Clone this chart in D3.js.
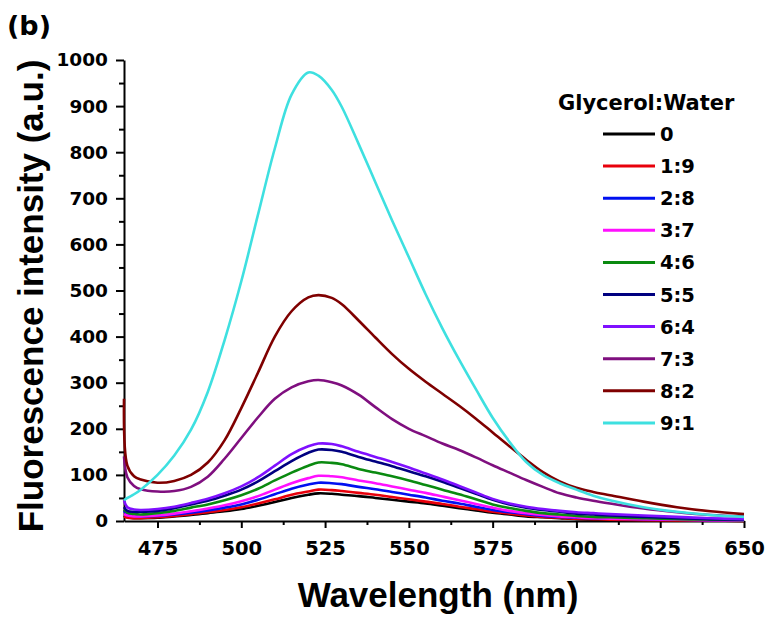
<!DOCTYPE html>
<html>
<head>
<meta charset="utf-8">
<script src="https://cdn.jsdelivr.net/npm/d3@7/dist/d3.min.js"></script>
<style>
  body { margin: 0; background: #fff; }
</style>
</head>
<body>
<div id="chart"></div>
<script>
// emission spectra (nm -> a.u.)
const wavelengths = [465, 466, 468, 470, 475, 480, 485, 490, 495, 500, 505, 510, 515, 520, 523, 527, 530,
  535, 540, 545, 550, 555, 560, 565, 570, 575, 580, 585, 590, 595, 600, 605, 610, 620, 630, 640, 650];

const ratio0  = [12, 8, 6, 6, 7, 10, 13, 17, 21, 26, 33, 41, 50, 57, 60, 59, 57,
  54, 50, 46, 42, 38, 33, 28, 23, 18, 14, 10, 8, 6, 4, 3, 3, 2, 1, 1, 0];
const ratio19 = [10, 7, 6, 6, 8, 11, 15, 19, 24, 30, 38, 47, 57, 64, 68, 67, 65,
  61, 57, 52, 47, 42, 37, 31, 26, 20, 16, 12, 9, 7, 5, 4, 3, 2, 1, 1, 0];
const ratio28 = [22, 14, 11, 10, 11, 14, 18, 23, 29, 36, 46, 58, 70, 79, 83, 82, 80,
  74, 69, 63, 57, 51, 44, 38, 31, 24, 19, 15, 11, 9, 7, 6, 5, 4, 3, 2, 1];
const ratio37 = [15, 12, 10, 10, 12, 16, 21, 27, 34, 43, 54, 68, 82, 93, 98, 97, 95,
  88, 82, 75, 68, 61, 53, 45, 37, 29, 22, 17, 13, 10, 8, 6, 5, 4, 3, 2, 1];
const ratio46 = [25, 18, 15, 14, 17, 22, 29, 36, 45, 56, 70, 88, 105, 120, 127, 126, 123,
  113, 105, 97, 88, 78, 68, 58, 47, 36, 28, 22, 17, 14, 11, 9, 8, 6, 4, 3, 2];
const ratio55 = [30, 22, 20, 20, 22, 28, 36, 44, 55, 68, 86, 108, 130, 148, 155, 154, 150,
  139, 129, 119, 108, 97, 85, 72, 59, 46, 36, 29, 24, 20, 16, 14, 12, 9, 6, 4, 3];
const ratio64 = [45, 30, 25, 24, 26, 31, 39, 48, 60, 75, 95, 120, 145, 162, 168, 167, 162,
  150, 139, 128, 116, 103, 90, 76, 62, 48, 38, 31, 26, 22, 19, 17, 15, 12, 9, 6, 4];
const ratio73 = [140, 95, 76, 69, 64, 65, 74, 96, 135, 180, 225, 265, 290, 303, 306, 301, 294,
  274, 247, 221, 200, 184, 168, 154, 138, 121, 105, 89, 74, 60, 51, 44, 38, 27, 19, 13, 10];
const ratio82 = [265, 120, 97, 90, 83, 87, 100, 127, 175, 245, 322, 400, 455, 485, 490, 484, 470,
  435, 398, 362, 330, 302, 276, 250, 222, 192, 162, 133, 106, 86, 72, 63, 56, 42, 30, 21, 15];
const ratio91 = [45, 50, 58, 68, 100, 142, 198, 280, 392, 520, 665, 808, 925, 973, 966, 935, 898,
  818, 735, 652, 572, 492, 418, 350, 286, 224, 172, 128, 100, 82, 68, 55, 45, 30, 20, 13, 9];

const seriesNames = ["0", "1:9", "2:8", "3:7", "4:6", "5:5", "6:4", "7:3", "8:2", "9:1"];
const seriesValues = [ratio0, ratio19, ratio28, ratio37, ratio46, ratio55, ratio64, ratio73, ratio82, ratio91];
const seriesColors = ["#000000", "#e8000b", "#0010f0", "#ff10ff", "#0a8a10", "#000080",
  "#7f10ff", "#7f0f7f", "#7f0000", "#3ee0e0"];

const xTicks = [475, 500, 525, 550, 575, 600, 625, 650];
const yTicks = [0, 100, 200, 300, 400, 500, 600, 700, 800, 900, 1000];

const width = 770, height = 621;
const numFont = "'DejaVu Sans', sans-serif";
const titleFont = "'Liberation Sans', Arial, sans-serif";

const svg = d3.select("#chart").append("svg")
  .attr("width", width)
  .attr("height", height);

const x = d3.scaleLinear().domain([465, 650]).range([124, 744]);
const y = d3.scaleLinear().domain([0, 1000]).range([521, 60]);

// minor ticks first so the major axis sits on top
svg.append("g")
  .attr("transform", "translate(0,521)")
  .call(d3.axisBottom(x).tickValues(d3.range(487.5, 650, 25)).tickSize(4).tickFormat(""))
  .call(g => g.select(".domain").remove());
svg.append("g")
  .attr("transform", "translate(124,0)")
  .call(d3.axisLeft(y).tickValues(d3.range(50, 1000, 100)).tickSize(5).tickFormat(""))
  .call(g => g.select(".domain").remove());

const xAxis = svg.append("g")
  .attr("transform", "translate(0,521)")
  .call(d3.axisBottom(x).tickValues(xTicks).tickSize(7).tickSizeOuter(0).tickPadding(13)
    .tickFormat(d3.format("d")));
const yAxis = svg.append("g")
  .attr("transform", "translate(124,0)")
  .call(d3.axisLeft(y).tickValues(yTicks).tickSize(8).tickSizeOuter(0).tickPadding(8)
    .tickFormat(d3.format("d")));

xAxis.attr("font-family", numFont).attr("font-size", 19.5).attr("font-weight", "bold");
yAxis.attr("font-family", numFont).attr("font-size", 18.5).attr("font-weight", "bold");
svg.selectAll(".domain, .tick line").attr("stroke", "#000").attr("stroke-width", 2);
svg.selectAll(".tick text").attr("fill", "#000");

// spectra
const line = d3.line()
  .x((d, i) => x(wavelengths[i]))
  .y(d => y(d))
  .curve(d3.curveCatmullRom.alpha(0.5));

svg.append("g").selectAll("path")
  .data(seriesValues)
  .enter().append("path")
    .attr("d", line)
    .attr("fill", "none")
    .attr("stroke", (d, i) => seriesColors[i])
    .attr("stroke-width", 2.6)
    .attr("stroke-linejoin", "round");

// legend
svg.append("text")
  .attr("x", 558)
  .attr("y", 110)
  .attr("font-family", numFont)
  .attr("font-size", 21)
  .attr("font-weight", "bold")
  .text("Glycerol:Water");

const legend = svg.append("g").selectAll("g")
  .data(seriesNames)
  .enter().append("g")
    .attr("transform", (d, i) => `translate(0,${134 + i * 32.1})`);
legend.append("line")
  .attr("x1", 603).attr("x2", 655)
  .attr("stroke", (d, i) => seriesColors[i])
  .attr("stroke-width", 3);
legend.append("text")
  .attr("x", 660)
  .attr("y", 7)
  .attr("font-family", numFont)
  .attr("font-size", 19.5)
  .attr("font-weight", "bold")
  .text(d => d);

// titles
svg.append("text")
  .attr("x", 438)
  .attr("y", 607)
  .attr("text-anchor", "middle")
  .attr("font-family", titleFont)
  .attr("font-size", 35)
  .attr("font-weight", "bold")
  .text("Wavelength (nm)");

svg.append("text")
  .attr("transform", "translate(43,296) rotate(-90)")
  .attr("text-anchor", "middle")
  .attr("font-family", titleFont)
  .attr("font-size", 35)
  .attr("font-weight", "bold")
  .text("Fluorescence intensity (a.u.)");

svg.append("text")
  .attr("x", 7)
  .attr("y", 35)
  .attr("font-family", numFont)
  .attr("font-size", 27)
  .attr("font-weight", "bold")
  .text("(b)");
</script>
</body>
</html>
